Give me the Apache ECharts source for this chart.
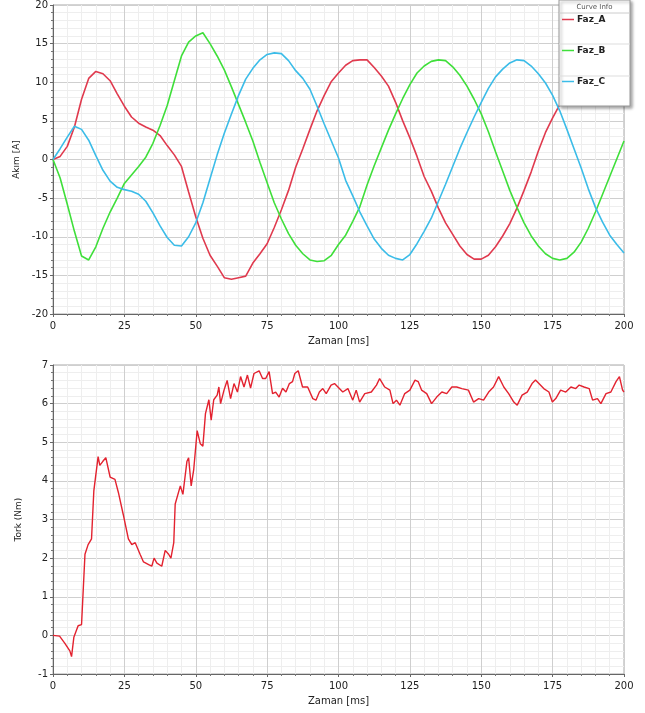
<!DOCTYPE html>
<html>
<head>
<meta charset="utf-8">
<script src="https://cdn.jsdelivr.net/npm/echarts@6/dist/echarts.min.js"></script>
<style>
  html, body { margin: 0; padding: 0; background: #fff; }
  #chart { width: 645px; height: 713px; }
</style>
</head>
<body>
<div id="chart"></div>
<script>
// sample times for the phase currents (ms)
var zaman = [
  0, 2.5, 5, 7.5, 10, 12.5, 15, 17.5, 20, 22.5,
  25, 27.5, 30, 32.5, 35, 37.5, 40, 42.5, 45, 47.5,
  50, 52.5, 55, 57.5, 60, 62.5, 65, 67.5, 70, 72.5,
  75, 77.5, 80, 82.5, 85, 87.5, 90, 92.5, 95, 97.5,
  100, 102.5, 105, 107.5, 110, 112.5, 115, 117.5, 120, 122.5,
  125, 127.5, 130, 132.5, 135, 137.5, 140, 142.5, 145, 147.5,
  150, 152.5, 155, 157.5, 160, 162.5, 165, 167.5, 170, 172.5,
  175, 177.5, 180, 182.5, 185, 187.5, 190, 192.5, 195, 197.5, 200
];

var fazA = [
  0, 0.4, 1.7, 4.2, 7.8, 10.5, 11.4, 11.1, 10.2, 8.5,
  6.9, 5.5, 4.7, 4.2, 3.8, 3.1, 1.8, 0.6, -0.9, -4.2,
  -7.4, -10.2, -12.4, -13.8, -15.3, -15.5, -15.3, -15.1, -13.4, -12.2,
  -10.9, -8.8, -6.5, -4.0, -1.0, 1.4, 3.9, 6.3, 8.3, 10.1,
  11.2, 12.2, 12.8, 12.9, 12.9, 11.9, 10.8, 9.5, 7.4, 5.0,
  2.8, 0.4, -2.2, -4.1, -6.3, -8.2, -9.7, -11.2, -12.3, -12.9,
  -12.9, -12.4, -11.3, -9.9, -8.3, -6.3, -4.0, -1.6, 1.1, 3.5,
  5.4, 7.1, 8.6, 10.1, 11.4, 12.4, 12.9, 13.0, 12.9, 12.0, 11.0
];

var fazB = [
  0, -2.4, -5.8, -9.3, -12.5, -13.0, -11.3, -8.9, -6.8, -5.0,
  -3.1, -2.0, -0.9, 0.3, 2.1, 4.4, 7.0, 10.2, 13.4, 15.2,
  16.0, 16.4, 15.0, 13.4, 11.6, 9.4, 7.1, 4.8, 2.4, -0.4,
  -3.0, -5.6, -7.7, -9.6, -11.1, -12.2, -13.0, -13.2, -13.1, -12.4,
  -11.0, -9.8, -8.0, -6.1, -3.3, -0.8, 1.5, 3.8, 5.9, 7.9,
  9.7, 11.2, 12.1, 12.7, 12.9, 12.8, 12.0, 10.9, 9.5, 7.8,
  5.9, 3.6, 1.0, -1.5, -4.0, -6.2, -8.2, -9.9, -11.2, -12.2,
  -12.8, -13.0, -12.8, -12.0, -10.7, -8.9, -6.8, -4.5, -2.2, 0.1, 2.4
];

var fazC = [
  0, 1.4, 2.9, 4.3, 3.9, 2.5, 0.5, -1.4, -2.8, -3.6,
  -3.9, -4.1, -4.5, -5.4, -6.9, -8.6, -10.1, -11.1, -11.2, -10.0,
  -8.2, -5.6, -2.5, 0.6, 3.4, 5.9, 8.3, 10.4, 11.8, 12.9,
  13.6, 13.8, 13.7, 12.8, 11.5, 10.5, 9.1, 6.9, 4.6, 2.4,
  0.2, -2.7, -4.7, -6.8, -8.6, -10.3, -11.5, -12.4, -12.8, -13.0,
  -12.3, -10.9, -9.3, -7.6, -5.4, -3.2, -0.9, 1.4, 3.5, 5.5,
  7.4, 9.2, 10.7, 11.7, 12.5, 12.9, 12.8, 12.1, 11.1, 9.9,
  8.3, 6.3, 3.9, 1.4, -1.1, -3.8, -6.2, -8.1, -9.8, -11.0, -12.1
];

// torque samples (ms, Nm)
var torkZaman = [
  0, 2.3, 4.1, 5.9, 6.5, 7.3, 8.8, 10, 11.2, 12.3, 13.5, 14.3, 15.8, 16.4, 17.4, 18.5,
  20, 21.7, 22.9, 24.6, 26.4, 27.6, 28.8, 30.5, 31.7, 33.5, 34.6, 35.4, 36.4, 38.1, 39.3, 40.5,
  41.3, 42.3, 42.8, 44.6, 45.5, 46.9, 47.5, 48.4, 49.3, 50.5, 51.6, 52.5, 53.4, 54.6, 55.4, 56.3,
  57.5, 58.1, 58.7, 59.9, 61, 62.2, 63.4, 64.6, 65.7, 66.9, 68.1, 69.2, 70.4, 72.2, 73.4, 74.5,
  75.7, 76.9, 78, 79.2, 80.4, 81.6, 82.8, 83.9, 84.7, 85.9, 87.4, 89.2, 91, 92.1, 93.3, 94.5,
  95.7, 97.4, 98.6, 99.8, 101.5, 103.3, 105, 106.2, 107.4, 109.2, 111.5, 113.3, 114.4, 116.2, 118, 119.1,
  120.3, 121.5, 123.2, 125, 126.8, 127.9, 129.1, 130.9, 132.6, 134.4, 136.2, 137.9, 139.7, 141.4, 143.2, 145.5,
  147.3, 149.1, 150.8, 152.6, 154.3, 156.1, 157.9, 159.6, 161.4, 162.6, 164.3, 166.1, 167.8, 169, 170.2, 171.9,
  173.7, 174.9, 176.1, 177.8, 179.6, 181.4, 183.1, 184.3, 186, 187.8, 189, 190.7, 191.9, 193.7, 195.4, 197.2,
  198.4, 199.5, 200
];

var tork = [
  0, -0.02, -0.2, -0.4, -0.55, -0.05, 0.25, 0.28, 2.1, 2.35, 2.5, 3.74, 4.63, 4.4, 4.5, 4.6,
  4.1, 4.04, 3.7, 3.13, 2.5, 2.35, 2.4, 2.1, 1.9, 1.83, 1.79, 2.0, 1.87, 1.79, 2.2, 2.1,
  2.0, 2.4, 3.4, 3.87, 3.65, 4.5, 4.6, 3.87, 4.3, 5.3, 4.96, 4.9, 5.74, 6.1, 5.57, 6.1,
  6.22, 6.43, 6.0, 6.35, 6.6, 6.13, 6.52, 6.3, 6.7, 6.43, 6.74, 6.4, 6.78, 6.85, 6.65, 6.65,
  6.83, 6.26, 6.3, 6.17, 6.4, 6.3, 6.52, 6.57, 6.78, 6.85, 6.43, 6.43, 6.13, 6.09, 6.3, 6.39,
  6.26, 6.48, 6.52, 6.43, 6.3, 6.39, 6.09, 6.35, 6.04, 6.26, 6.3, 6.48, 6.65, 6.43, 6.35, 6.0,
  6.09, 5.96, 6.26, 6.35, 6.61, 6.57, 6.35, 6.26, 6.0, 6.17, 6.3, 6.26, 6.43, 6.43, 6.39, 6.35,
  6.04, 6.13, 6.09, 6.3, 6.43, 6.7, 6.43, 6.26, 6.04, 5.96, 6.22, 6.3, 6.52, 6.61, 6.52, 6.39,
  6.3, 6.04, 6.13, 6.35, 6.3, 6.43, 6.39, 6.48, 6.43, 6.39, 6.09, 6.13, 6.0, 6.26, 6.3, 6.57,
  6.7, 6.35, 6.3
];

var akimTicks = [-20, 20, 5];
var torkTicks = [-1, 7, 1];
var zamanTicks = [0, 200, 25];

function pairs(xs, ys) {
  var out = [];
  for (var i = 0; i < xs.length; i++) out.push([xs[i], ys[i]]);
  return out;
}

var font = 'DejaVu Sans';

function xAx(gridIndex) {
  return {
    type: 'value', gridIndex: gridIndex,
    min: zamanTicks[0], max: zamanTicks[1], interval: zamanTicks[2],
    name: 'Zaman [ms]', nameLocation: 'middle', nameGap: 22,
    nameTextStyle: { fontFamily: font, fontSize: 10, color: '#222' },
    axisLine: { show: true, onZero: false, lineStyle: { color: '#666' } },
    axisTick: { show: true, length: 3, lineStyle: { color: '#666' } },
    minorTick: { show: true, splitNumber: 5, length: 2, lineStyle: { color: '#777' } },
    axisLabel: { fontFamily: font, fontSize: 10, color: '#222', margin: 7 },
    splitLine: { show: true, lineStyle: { color: '#cfcfcf' } },
    minorSplitLine: { show: true, lineStyle: { color: '#eeeeee' } }
  };
}

function yAx(gridIndex, ticks, name) {
  return {
    type: 'value', gridIndex: gridIndex,
    min: ticks[0], max: ticks[1], interval: ticks[2],
    name: name, nameLocation: 'middle', nameGap: 30,
    nameTextStyle: { fontFamily: font, fontSize: 9, color: '#222' },
    axisLine: { show: true, onZero: false, lineStyle: { color: '#666' } },
    axisTick: { show: true, length: 3, lineStyle: { color: '#666' } },
    minorTick: { show: true, splitNumber: 5, length: 2, lineStyle: { color: '#777' } },
    axisLabel: { fontFamily: font, fontSize: 10, color: '#222', margin: 5 },
    splitLine: { show: true, lineStyle: { color: '#cfcfcf' } },
    minorSplitLine: { show: true, lineStyle: { color: '#eeeeee' } }
  };
}

var chart = echarts.init(document.getElementById('chart'));

var option = {
  animation: false,
  backgroundColor: '#fff',
  grid: [
    { left: 53, top: 5, width: 571, height: 309, show: true, borderColor: '#a8a8a8', borderWidth: 1 },
    { left: 53, top: 365, width: 571, height: 309, show: true, borderColor: '#a8a8a8', borderWidth: 1 }
  ],
  xAxis: [xAx(0), xAx(1)],
  yAxis: [yAx(0, akimTicks, 'Akım [A]'), yAx(1, torkTicks, 'Tork (Nm)')],
  legend: {
    orient: 'vertical', left: 562, top: 15, z: 10,
    icon: 'rect', itemGap: 22, itemWidth: 12, itemHeight: 1.5, padding: 0,
    data: ['Faz_A', 'Faz_B', 'Faz_C'],
    textStyle: { fontFamily: font, fontSize: 9, fontWeight: 'bold', color: '#222', padding: [0, 0, 0, -2] }
  },
  graphic: [
    { type: 'rect', z: 8, shape: { x: 559, y: 0, width: 71, height: 106 },
      style: { fill: '#fff', stroke: '#9a9a9a', lineWidth: 1,
        shadowBlur: 3, shadowOffsetX: 2, shadowOffsetY: 2, shadowColor: 'rgba(0,0,0,0.35)' } },
    { type: 'line', z: 9, shape: { x1: 559, y1: 13, x2: 630, y2: 13 }, style: { stroke: '#cccccc' } },
    { type: 'line', z: 9, shape: { x1: 559, y1: 44, x2: 630, y2: 44 }, style: { stroke: '#dddddd' } },
    { type: 'line', z: 9, shape: { x1: 559, y1: 76, x2: 630, y2: 76 }, style: { stroke: '#dddddd' } },
    { type: 'text', z: 9, style: { x: 594.5, y: 7, text: 'Curve Info', fontFamily: font, fontSize: 7,
      fill: '#555', align: 'center', verticalAlign: 'middle' } }
  ],
  series: [
    { name: 'Faz_A', type: 'line', xAxisIndex: 0, yAxisIndex: 0, symbol: 'none',
      data: pairs(zaman, fazA), lineStyle: { color: '#e03a4e', width: 1.6 }, itemStyle: { color: '#e03a4e' } },
    { name: 'Faz_B', type: 'line', xAxisIndex: 0, yAxisIndex: 0, symbol: 'none',
      data: pairs(zaman, fazB), lineStyle: { color: '#3fdf3a', width: 1.6 }, itemStyle: { color: '#3fdf3a' } },
    { name: 'Faz_C', type: 'line', xAxisIndex: 0, yAxisIndex: 0, symbol: 'none',
      data: pairs(zaman, fazC), lineStyle: { color: '#3bbce8', width: 1.6 }, itemStyle: { color: '#3bbce8' } },
    { name: 'Tork', type: 'line', xAxisIndex: 1, yAxisIndex: 1, symbol: 'none',
      data: pairs(torkZaman, tork), lineStyle: { color: '#e3222f', width: 1.4 }, itemStyle: { color: '#e3222f' } }
  ]
};

chart.setOption(option);
</script>
</body>
</html>
